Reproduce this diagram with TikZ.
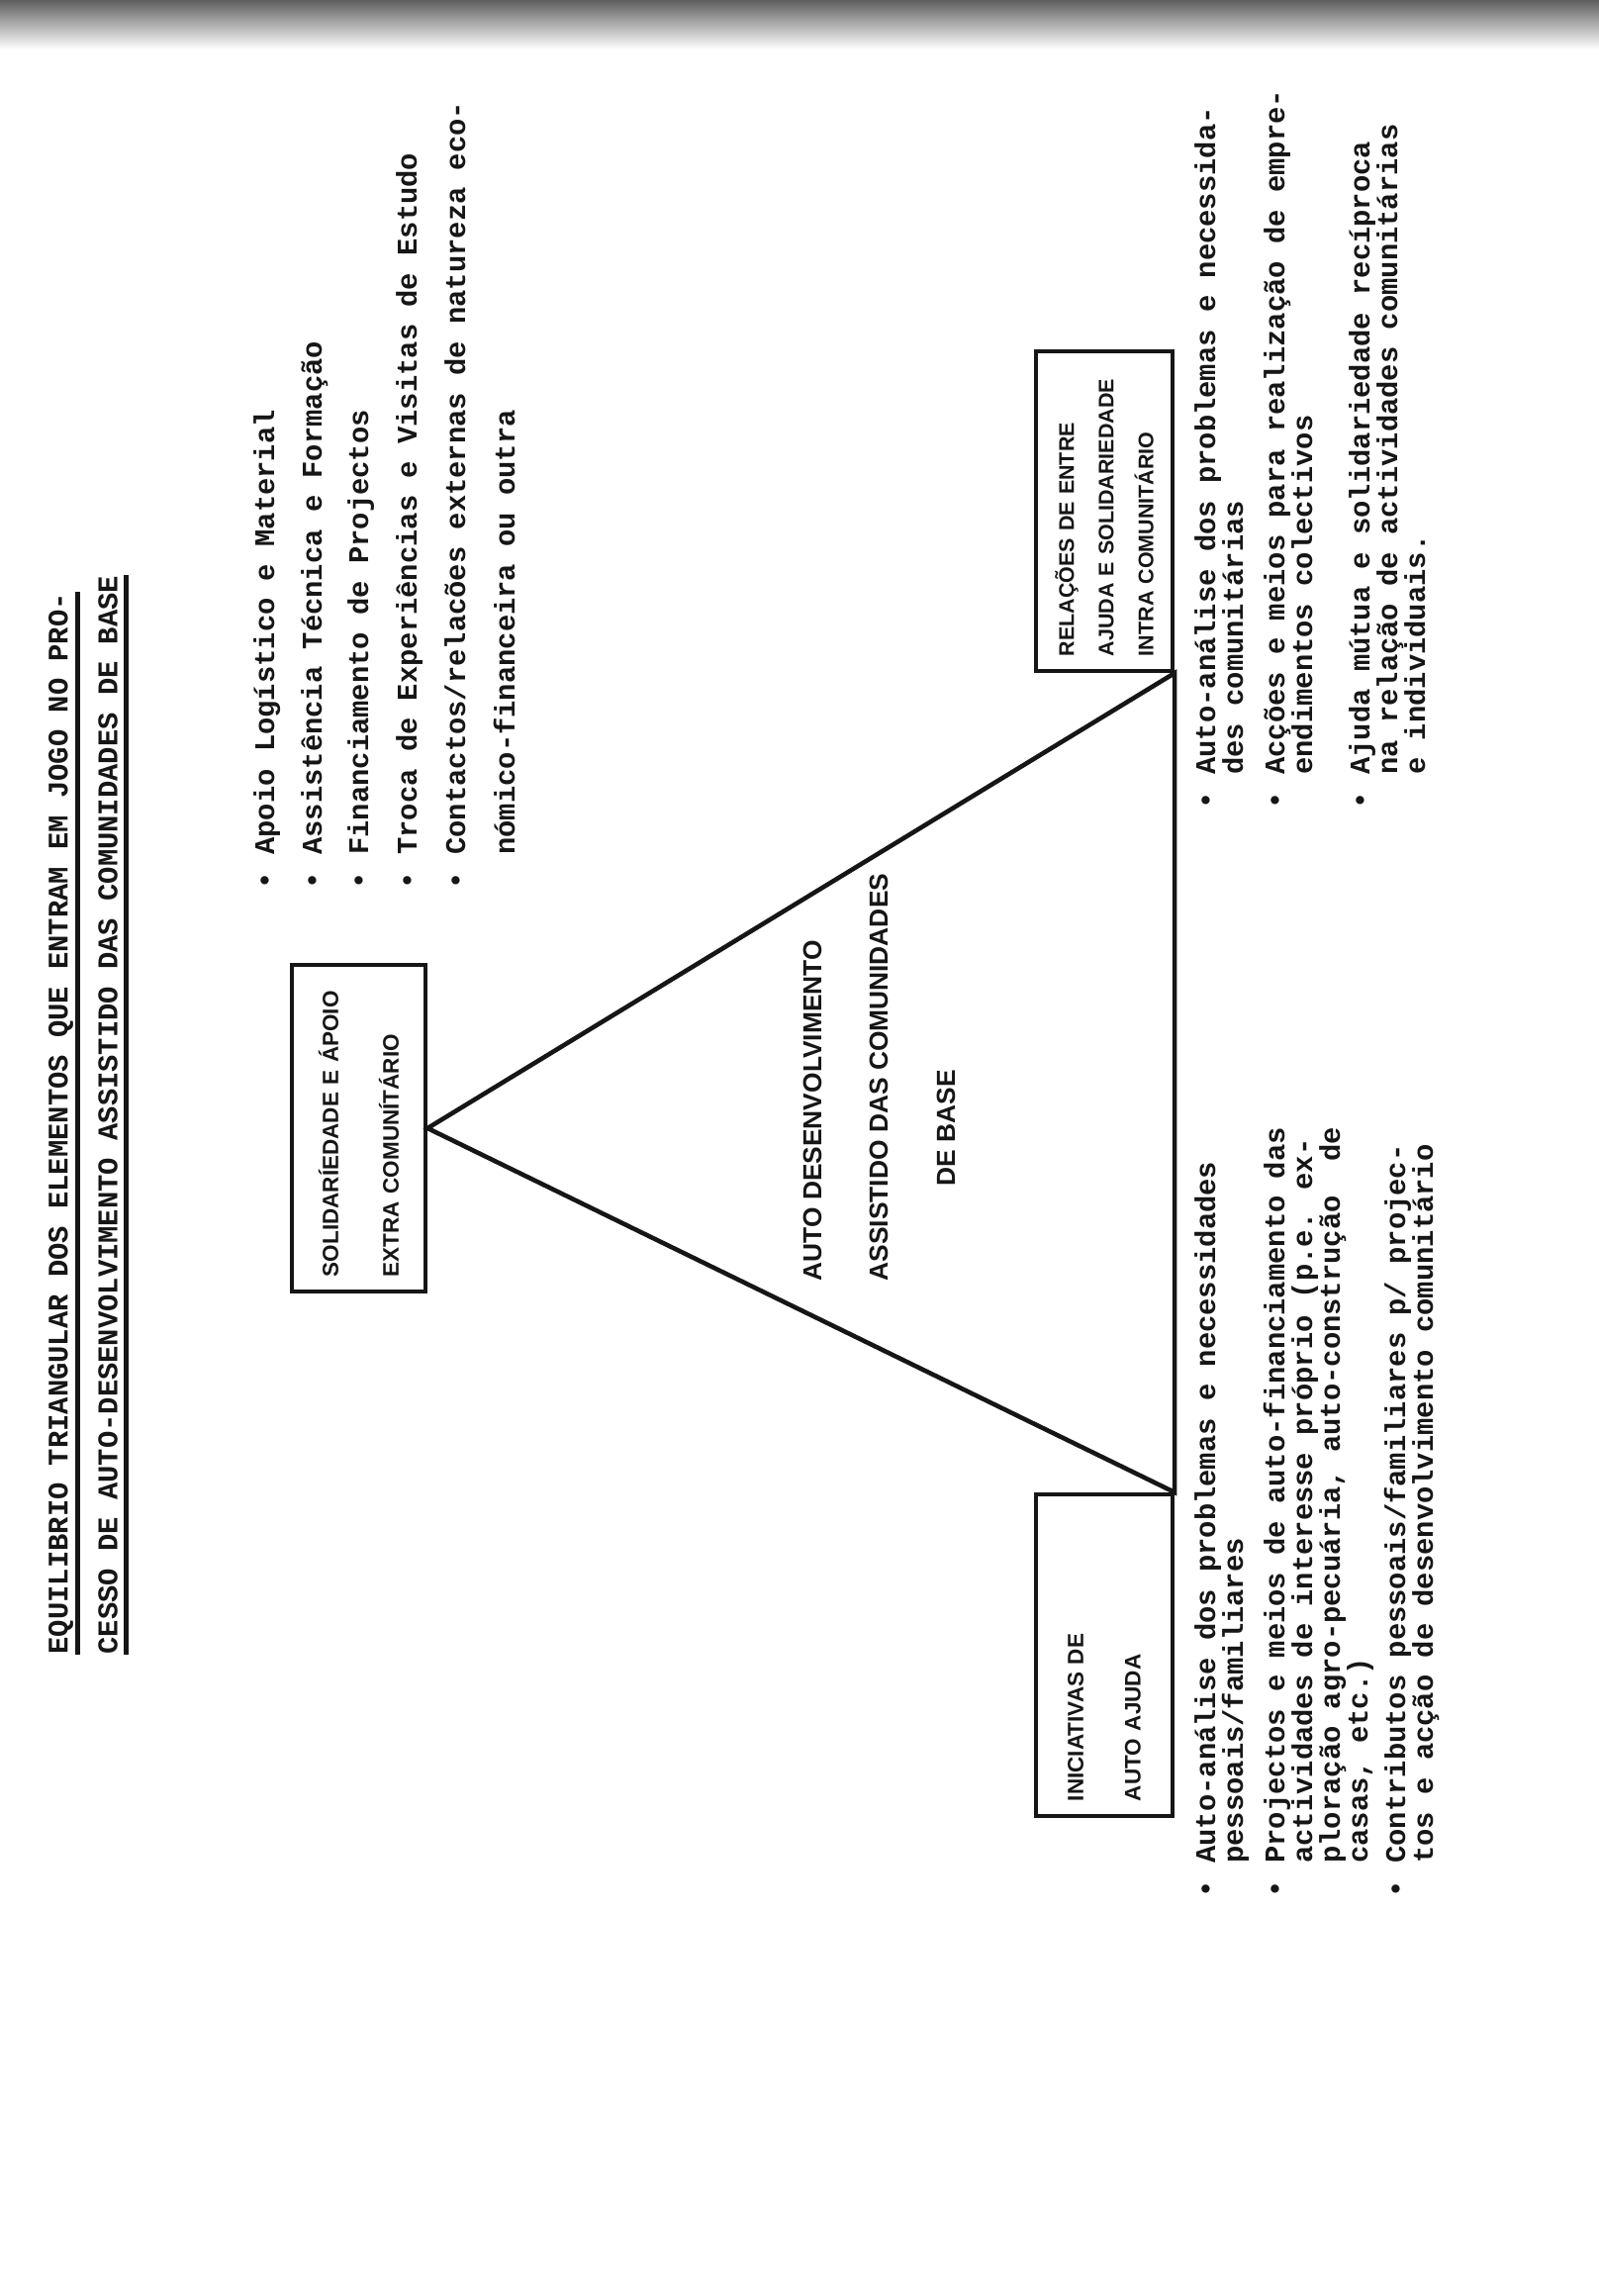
\documentclass[tikz,border=0pt]{standalone}
\usepackage{fontspec}
\setmainfont{Liberation Sans}
\newfontfamily\typewriter{Liberation Mono}
\usetikzlibrary{calc}
\definecolor{inkblack}{RGB}{22,22,22}
\definecolor{scanedge}{RGB}{95,95,95}
\tikzset{
    typeline/.style={rotate=90, anchor=base west, inner sep=0pt, text=inkblack, font=\typewriter\bfseries\fontsize{8.2}{8.2}\selectfont},
    titleline/.style={typeline},
    capbox/.style={rectangle, draw=inkblack, line width=1.2pt, rotate=90, inner xsep=0.15cm, inner ysep=0pt, align=left, text=inkblack, font=\bfseries\fontsize{6.4}{#1}\selectfont},
    centreline/.style={rotate=90, anchor=base west, inner sep=0pt, text=inkblack, font=\bfseries\fontsize{7.5}{7.5}\selectfont},
    triline/.style={draw=inkblack, line width=1.3pt, line join=miter},
    uline/.style={draw=inkblack, line width=1.4pt}
}

\begin{document}
\begin{tikzpicture}

\useasboundingbox (0,0) rectangle (16.16,-23.2);
\fill[white] (0,0) rectangle (16.16,-23.2);
\shade[top color=scanedge, bottom color=white] (0,0) rectangle (16.16,-0.5);

\node[titleline] (t1) at (0.685,-16.72) {EQUILIBRIO TRIANGULAR DOS ELEMENTOS QUE ENTRAM EM JOGO NO PRO-};
\node[titleline] (t2) at (1.185,-16.72) {CESSO DE AUTO-DESENVOLVIMENTO ASSISTIDO DAS COMUNIDADES DE BASE};
\draw[uline] ($(t1.base west)+(0.1,0)$) -- ($(t1.base east)+(0.1,0)$);
\draw[uline] ($(t2.base west)+(0.09,0)$) -- ($(t2.base east)+(0.09,0)$);

\node[capbox=17.3pt, minimum width=3.30cm, minimum height=1.35cm, text width=3.0cm] (sol) at (3.625,-11.40) {SOLIDARÍEDADE E ÁPOIO\\EXTRA COMUNÍTÁRIO};
\node[capbox=11.4pt, minimum width=3.23cm, minimum height=1.38cm, text width=2.93cm, font=\bfseries\fontsize{6.1}{11.4pt}\selectfont] (rel) at (11.16,-5.165) {RELAÇÕES DE ENTRE\\AJUDA E SOLIDARIEDADE\\INTRA COMUNITÁRIO};
\node[capbox=16.5pt, minimum width=3.25cm, minimum height=1.38cm, text width=2.95cm] (ini) at (11.16,-16.725) {INICIATIVAS DE\\AUTO AJUDA};

\draw[triline] (sol.south) -- (rel.south west) -- (ini.south east) -- cycle;

\node[centreline] (c1) at (8.30,-12.95) {AUTO DESENVOLVIMENTO};
\node[centreline] (c2) at (8.97,-12.95) {ASSISTIDO DAS COMUNIDADES};
\node[centreline] (c3) at (9.65,-11.99) {DE BASE};

\node[typeline] (s1) at (2.77,-8.99) {• Apoio Logístico e Material};
\node[typeline] (s2) at (3.25,-8.99) {• Assistência Técnica e Formação};
\node[typeline] (s3) at (3.72,-8.99) {• Financiamento de Projectos};
\node[typeline] (s4) at (4.21,-8.99) {• Troca de Experiências e Visitas de Estudo};
\node[typeline] (s5) at (4.70,-8.99) {• Contactos/relacões externas de natureza eco-};
\node[typeline] (s6) at (5.20,-8.644) {nómico-financeira ou outra};

\node[typeline] (r1) at (12.28,-8.18) {• Auto-análise dos problemas e necessida-};
\node[typeline] (r2) at (12.56,-7.834) {des comunitárias};
\node[typeline] (r3) at (12.98,-8.18) {• Acções e meios para realização de empre-};
\node[typeline] (r4) at (13.26,-7.834) {endimentos colectivos};
\node[typeline] (r5) at (13.84,-8.18) {• Ajuda mútua e solidariedade recíproca};
\node[typeline] (r6) at (14.12,-7.834) {na relação de actividades comunitárias};
\node[typeline] (r7) at (14.40,-7.834) {e individuais.};

\node[typeline] (i1) at (12.28,-19.18) {• Auto-análise dos problemas e necessidades};
\node[typeline] (i2) at (12.56,-18.834) {pessoais/familiares};
\node[typeline] (i3) at (12.98,-19.18) {• Projectos e meios de auto-financiamento das};
\node[typeline] (i4) at (13.26,-18.834) {actividades de interesse próprio (p.e. ex-};
\node[typeline] (i5) at (13.54,-18.834) {ploração agro-pecuária, auto-construção\ \ de};
\node[typeline] (i6) at (13.82,-18.834) {casas, etc.)};
\node[typeline] (i7) at (14.20,-19.18) {• Contributos pessoais/familiares p/ projec-};
\node[typeline] (i8) at (14.48,-18.834) {tos e acção de desenvolvimento comunitário};

\end{tikzpicture}
\end{document}
